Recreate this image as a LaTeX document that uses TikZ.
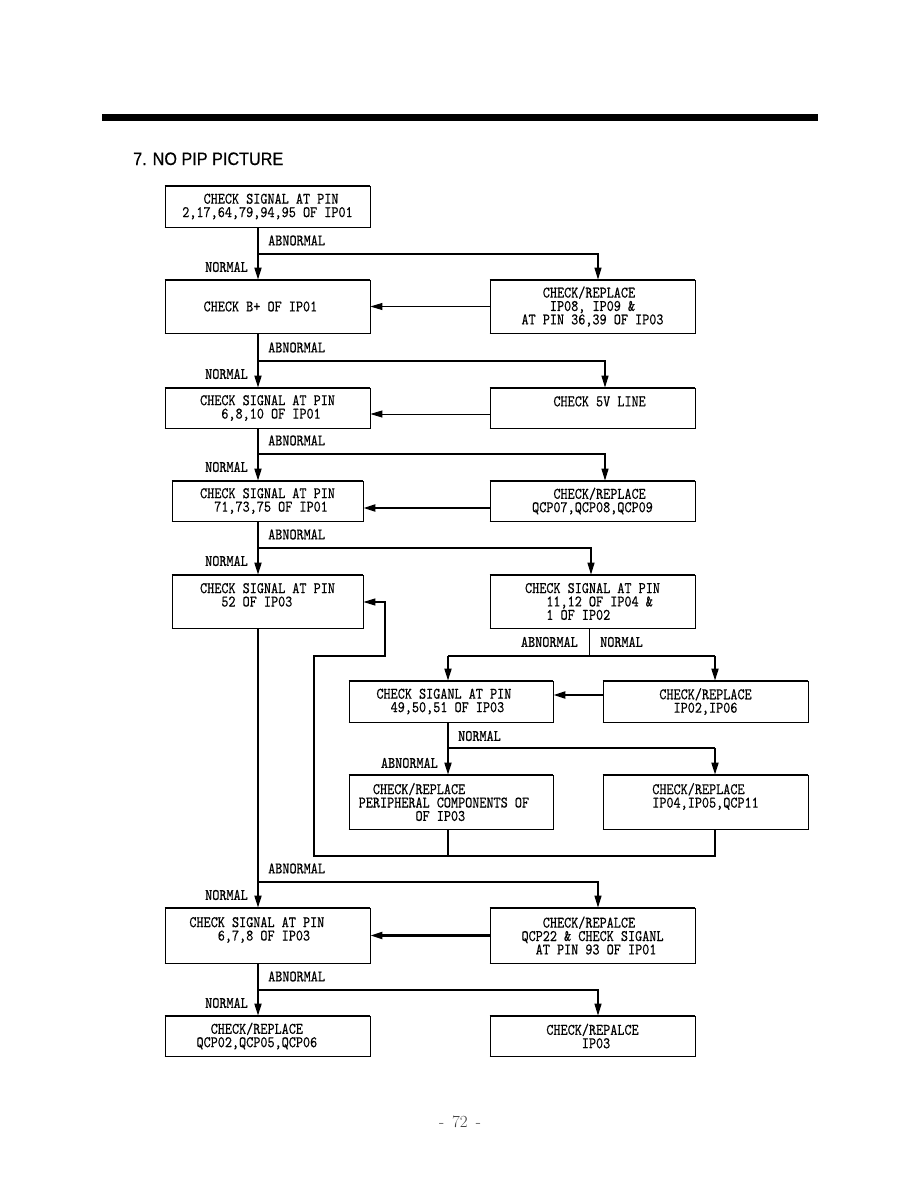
\documentclass[tikz,border=0pt]{standalone}
\usepackage{fontspec}
\usetikzlibrary{arrows.meta,calc}
\newfontfamily\monofnt{lmmono10-regular.otf}[FakeStretch=0.84,FakeBold=0.45]
\newfontfamily\titlefnt{Liberation Sans}[FakeStretch=0.9,FakeBold=0.6]
\tikzset{
  box/.style={draw, line width=0.8pt, inner sep=0pt, align=left,
    minimum width=205pt, font={\monofnt\fontsize{16.1pt}{13.4pt}\selectfont}},
  lbl/.style={inner sep=0pt, font={\monofnt\fontsize{16.1pt}{13.4pt}\selectfont}},
  arr/.style={-{Triangle[length=12pt,width=7pt]}},
  trunk/.style={line width=1.8pt},
  branch/.style={line width=1.2pt},
  thin/.style={line width=0.9pt},
  thick/.style={line width=2.2pt},
}
\begin{document}
\begin{tikzpicture}[x=1pt,y=-1pt]
\fill[white] (0,0) rectangle (918,1188);
\useasboundingbox (0,0) rectangle (918,1188);
% header bar and title
\fill (102,114) rectangle (818,121);
\node[anchor=base west, inner sep=0pt, font={\titlefnt\fontsize{18pt}{20pt}\selectfont}] (title) at (133,165) {7. NO PIP PICTURE};
% boxes
\node[box, minimum height=41pt] (b1) at (267.5,206.5) {\hphantom{000}CHECK SIGNAL AT PIN\\2,17,64,79,94,95 OF IP01};
\node[box, minimum height=53pt] (b2) at (267.5,306.5) {CHECK B+ OF IP01\hphantom{00}};
\node[box, minimum height=53pt] (b3) at (592.5,306.5) {\hphantom{000}CHECK/REPLACE\\\hphantom{0000}IP08, IP09 \&\\AT PIN 36,39 OF IP03};
\node[box, minimum height=40pt] (b4) at (267.5,408) {CHECK SIGNAL AT PIN\\\hphantom{000}6,8,10 OF IP01};
\node[box, minimum height=40pt] (b5) at (592.5,408) {\hphantom{00}CHECK 5V LINE\\\mbox{}};
\node[box, minimum height=40pt, minimum width=191pt] (b6) at (267.5,501) {CHECK SIGNAL AT PIN\\\hphantom{00}71,73,75 OF IP01};
\node[box, minimum height=40pt] (b7) at (592.5,501) {\hphantom{000}CHECK/REPLACE\\QCP07,QCP08,QCP09};
\node[box, minimum height=53pt, minimum width=191pt] (b8) at (267.5,601.5) {CHECK SIGNAL AT PIN\\\hphantom{000}52 OF IP03\\\mbox{}};
\node[box, minimum height=53pt] (b9) at (592.5,601.5) {CHECK SIGNAL AT PIN\\\hphantom{000}11,12 OF IP04 \&\\\hphantom{000}1 OF IP02};
\node[box, minimum height=41pt, minimum width=204pt] (b10) at (451,701.5) {CHECK SIGANL AT PIN\hphantom{00}\\\hphantom{00}49,50,51 OF IP03};
\node[box, minimum height=41pt] (b11) at (705.5,701.5) {CHECK/REPLACE\\\hphantom{00}IP02,IP06};
\node[box, minimum height=54pt, minimum width=204pt] (b12) at (451,802) {\hphantom{00}CHECK/REPLACE\\PERIPHERAL COMPONENTS OF\hphantom{00}\\\hphantom{00000000}OF IP03};
\node[box, minimum height=54pt] (b13) at (705.5,802) {CHECK/REPLACE\\IP04,IP05,QCP11\\\mbox{}};
\node[box, minimum height=55pt] (b14) at (267.5,935.5) {CHECK SIGNAL AT PIN\hphantom{000}\\\hphantom{0000}6,7,8 OF IP03\\\mbox{}};
\node[box, minimum height=55pt] (b15) at (592.5,935.5) {\hphantom{000}CHECK/REPALCE\\QCP22 \& CHECK SIGANL\\\hphantom{00}AT PIN 93 OF IP01};
\node[box, minimum height=40pt] (b16) at (267.5,1036) {\hphantom{00}CHECK/REPLACE\hphantom{000}\\QCP02,QCP05,QCP06\hphantom{000}};
\node[box, minimum height=40pt] (b17) at (592.5,1036) {CHECK/REPALCE\\\hphantom{00000}IP03};
% thicker top and bottom borders
\foreach \n in {b1,b2,b3,b4,b5,b6,b7,b8,b9,b10,b11,b12,b13,b14,b15,b16,b17}{
  \draw[line width=1.6pt] (\n.north west) -- (\n.north east) (\n.south west) -- (\n.south east);
}
% trunk
\coordinate (T) at (258,0);
\draw[trunk,arr] (b1.south -| T) -- (b2.north -| T);
\draw[trunk,arr] (b2.south -| T) -- (b4.north -| T);
\draw[trunk,arr] (b4.south -| T) -- (b6.north -| T);
\draw[trunk,arr] (b6.south -| T) -- (b8.north -| T);
\draw[trunk,arr] (b8.south -| T) -- (b14.north -| T);
\draw[trunk,arr] (b14.south -| T) -- (b16.north -| T);
% branches
\coordinate (j1) at (258,254);  \coordinate (k1) at (598,254);
\coordinate (j2) at (258,361);  \coordinate (k2) at (605,361);
\coordinate (j3) at (258,454);  \coordinate (k3) at (605,454);
\coordinate (j4) at (258,548);  \coordinate (k4) at (591,548);
\coordinate (j5) at (258,882);  \coordinate (k5) at (598,882);
\coordinate (j6) at (258,990);  \coordinate (k6) at (598,990);
\draw[branch,arr] (j1) -- (k1) -- (k1 |- b3.north);
\draw[branch,arr] (j2) -- (k2) -- (k2 |- b5.north);
\draw[branch,arr] (j3) -- (k3) -- (k3 |- b7.north);
\draw[branch,arr] (j4) -- (k4) -- (k4 |- b9.north);
\draw[branch,arr] (j5) -- (k5) -- (k5 |- b15.north);
\draw[branch,arr] (j6) -- (k6) -- (k6 |- b17.north);
% labels on trunk
\foreach \j/\i in {j1/1,j2/2,j3/3,j4/4,j5/5,j6/6}{
  \node[lbl, anchor=west] (ab\i) at ($(\j)+(10,-13.5)$) {ABNORMAL};
  \node[lbl, anchor=east] (no\i) at ($(\j)+(-10,13)$) {NORMAL};
}
% side feed arrows
\coordinate (y5) at (0,414);
\coordinate (y7) at (0,508);
\coordinate (y11) at (0,695);
\draw[thin,arr] (b3.west) -- (b2.east);
\draw[thin,arr] (b5.west |- y5) -- (b4.east |- y5);
\draw[thick,arr] (b7.west |- y7) -- (b6.east |- y7);
\draw[thick,arr] (b11.west |- y11) -- (b10.east |- y11);
\draw[thick,arr] (b15.west) -- (b14.east);
% split below b9
\coordinate (m) at (589,656);
\coordinate (n1) at (448,656);
\coordinate (n2) at (715,656);
\draw[thin] (b9.south -| m) -- (m);
\draw[branch] (n1) -- (n2);
\draw[trunk,arr] (n1) -- (n1 |- b10.north);
\draw[trunk,arr] (n2) -- (n2 |- b11.north);
\node[lbl, anchor=east] (ab7) at ($(m)+(-11,-14)$) {ABNORMAL};
\node[lbl, anchor=west] (no7) at ($(m)+(11,-14)$) {NORMAL};
% split below b10
\coordinate (p1) at (448,748);
\coordinate (p2) at (715,748);
\draw[trunk] (b10.south -| p1) -- (p1);
\draw[trunk,arr] (p1) -- (p1 |- b12.north);
\draw[branch] (p1) -- (p2);
\draw[trunk,arr] (p2) -- (p2 |- b13.north);
\node[lbl, anchor=west] (no8) at ($(p1)+(10,-12)$) {NORMAL};
\node[lbl, anchor=east] (ab8) at ($(p1)+(-10,15)$) {ABNORMAL};
% loop back to b8
\coordinate (q1) at (314,856);
\coordinate (q2) at (314,656);
\coordinate (q3) at (385,656);
\coordinate (q4) at (385,602);
\draw[branch] (b12.south -| p1) -- (p1 |- q1);
\draw[branch,arr] (b13.south -| p2) -- (p2 |- q1) -- (q1) -- (q2) -- (q3) -- (q4) -- (b8.east |- q4);
% page number
\node[inner sep=0pt, text=black!75, font={\fontsize{17pt}{20pt}\selectfont}] (page) at (460,1122) {-\hspace{8pt}72\hspace{8pt}-};
\end{tikzpicture}
\end{document}
